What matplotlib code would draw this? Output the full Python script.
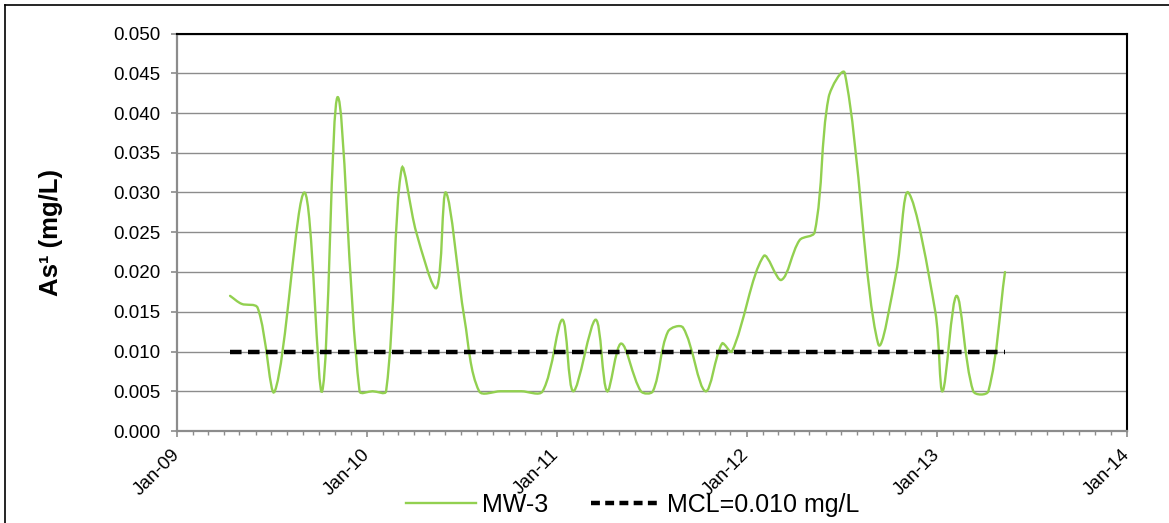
import numpy as np
import matplotlib
matplotlib.use("Agg")
import matplotlib.pyplot as plt
import matplotlib.dates as mdates
from matplotlib.path import Path
from matplotlib.patches import PathPatch
from matplotlib.lines import Line2D
from matplotlib.ticker import MultipleLocator, FormatStrFormatter

plt.rcParams['font.family'] = ['Liberation Sans', 'DejaVu Sans']

# sample dates and arsenic results for MW-3 (mg/L)
sample_dates = [
    "2009-04-13", "2009-05-05", "2009-06-05", "2009-07-08", "2009-09-03",
    "2009-10-07", "2009-11-06", "2009-12-18", "2010-01-12", "2010-02-07",
    "2010-03-09", "2010-04-06", "2010-05-15", "2010-06-02", "2010-07-08",
    "2010-08-05", "2010-09-15", "2010-10-25", "2010-12-05", "2011-01-12",
    "2011-02-02", "2011-03-17", "2011-04-08", "2011-05-05", "2011-06-12",
    "2011-07-05", "2011-08-03", "2011-09-01", "2011-10-14", "2011-11-15",
    "2011-12-04", "2012-02-03", "2012-03-08", "2012-04-12", "2012-05-11",
    "2012-06-07", "2012-07-08", "2012-09-10", "2012-10-15", "2012-11-07",
    "2012-12-29", "2013-01-12", "2013-02-08", "2013-03-12", "2013-04-10",
    "2013-05-12",
]
mw3_as = [
    0.017, 0.016, 0.0155, 0.005, 0.030,
    0.005, 0.042, 0.005, 0.005, 0.005,
    0.033, 0.025, 0.018, 0.030, 0.014,
    0.005, 0.005, 0.005, 0.005, 0.014,
    0.005, 0.014, 0.005, 0.011, 0.005,
    0.005, 0.0125, 0.013, 0.005, 0.011,
    0.010, 0.022, 0.019, 0.024, 0.025,
    0.042, 0.045, 0.011, 0.020, 0.030,
    0.015, 0.005, 0.017, 0.005, 0.005,
    0.020,
]
mcl_value = 0.010
mcl_as = [mcl_value] * len(sample_dates)

GREEN = "#92D050"
GRID = "#8c8c8c"


# smoothed line like Excel: bezier segments through the points,
# tangents worked out in screen space (chord length)
def smooth_path(ax, xs, ys):
    pts = ax.transData.transform(np.column_stack([xs, ys]))
    n = len(pts)
    verts = [pts[0]]
    codes = [Path.MOVETO]
    for i in range(n - 1):
        p0 = pts[i - 1] if i > 0 else pts[i]
        p1 = pts[i]
        p2 = pts[i + 1]
        p3 = pts[i + 2] if i + 2 < n else pts[i + 1]
        d01 = np.hypot(*(p1 - p0))
        d12 = np.hypot(*(p2 - p1))
        d23 = np.hypot(*(p3 - p2))
        m1 = (p2 - p0) / (d01 + d12) if d01 + d12 > 0 else np.zeros(2)
        m2 = (p3 - p1) / (d12 + d23) if d12 + d23 > 0 else np.zeros(2)
        c1 = p1 + m1 * d12 / 3.0
        c2 = p2 - m2 * d12 / 3.0
        verts += [c1, c2, p2]
        codes += [Path.CURVE4] * 3
    verts = ax.transData.inverted().transform(np.array(verts))
    return Path(verts, codes)


x = mdates.date2num(np.array(sample_dates, dtype="datetime64[D]"))

fig = plt.figure(figsize=(11.69, 5.23), dpi=100)
ax = fig.add_axes([177 / 1169, 1 - 431 / 523, (1126.7 - 177) / 1169, (431 - 33.5) / 523])

ax.set_xlim(mdates.date2num(np.datetime64("2009-01-01")),
            mdates.date2num(np.datetime64("2014-01-01")))
ax.set_ylim(0, 0.05)

ax.add_patch(PathPatch(smooth_path(ax, x, np.array(mw3_as)), fill=False,
                       edgecolor=GREEN, lw=1.7, capstyle="round", zorder=3))

mcl_lw = 3.2
mcl_dash = (2.6, 1.45)
ax.plot(x, mcl_as, color="black", lw=mcl_lw, dashes=mcl_dash, zorder=4)

ax.xaxis.set_major_locator(mdates.YearLocator())
ax.xaxis.set_minor_locator(mdates.MonthLocator())
ax.xaxis.set_major_formatter(mdates.DateFormatter("%b-%y"))
ax.yaxis.set_major_locator(MultipleLocator(0.005))
ax.yaxis.set_major_formatter(FormatStrFormatter("%.3f"))

ax.grid(axis="y", color=GRID, lw=1.0)
ax.set_axisbelow(True)

for side in ["left", "bottom"]:
    ax.spines[side].set_color(GRID)
    ax.spines[side].set_linewidth(1.6)
for side in ["top", "right"]:
    ax.spines[side].set_color("black")
    ax.spines[side].set_linewidth(1.5)

ax.tick_params(axis="y", which="major", direction="out", length=4, width=1.2,
               color=GRID, labelsize=13.5, pad=8)
ax.tick_params(axis="x", which="major", direction="out", length=4, width=1.2,
               color=GRID, labelsize=13.5, pad=11)
ax.tick_params(axis="x", which="minor", direction="out", length=3, width=1.0,
               color=GRID)
for lbl in ax.get_xticklabels():
    lbl.set_rotation(45)
    lbl.set_ha("right")
    lbl.set_va("center")
    lbl.set_rotation_mode("anchor")

ax.set_ylabel("As\u00b9 (mg/L)", fontsize=18.5, fontweight="bold")
ax.yaxis.set_label_coords(-0.12, 0.5)

handles = [
    Line2D([], [], color=GREEN, lw=1.7),
    Line2D([], [], color="black", lw=mcl_lw, dashes=(2.0, 1.2)),
]
fig.legend(handles, ["MW-3", "MCL=0.010 mg/L"], loc="center",
           bbox_to_anchor=(0.541, 0.034), ncol=2, frameon=False, fontsize=18,
           handlelength=2.8, handletextpad=0.25, columnspacing=1.7)

# outer chart frame (left and top edges visible)
fig.add_artist(Line2D([5 / 1169, 5 / 1169], [-0.05, 1 - 5 / 523],
                      transform=fig.transFigure, color="black", lw=1.2))
fig.add_artist(Line2D([5 / 1169, 1.05], [1 - 5 / 523, 1 - 5 / 523],
                      transform=fig.transFigure, color="black", lw=1.2))

fig.savefig("out.png", dpi=100)
